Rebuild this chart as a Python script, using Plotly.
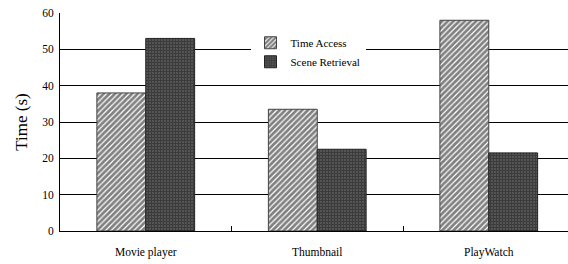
import plotly.graph_objects as go

categories = ["Movie player", "Thumbnail", "PlayWatch"]
time_access = [38, 33.5, 58]
scene_retrieval = [53, 22.5, 21.5]
y_ticks = [0, 10, 20, 30, 40, 50, 60]

FONT = "Liberation Serif, Times New Roman, serif"

fig = go.Figure()
fig.add_trace(go.Bar(
    name="Time Access", x=categories, y=time_access,
    marker=dict(color="white", line=dict(color="#444", width=1),
                pattern=dict(shape="/", fgcolor="black", bgcolor="white",
                             size=4, solidity=0.7)),
))
fig.add_trace(go.Bar(
    name="Scene Retrieval", x=categories, y=scene_retrieval,
    marker=dict(color="#333", line=dict(color="#222", width=1),
                pattern=dict(shape="+", fgcolor="#111", bgcolor="#666",
                             size=3, solidity=0.75)),
))

fig.update_layout(
    width=568, height=264,
    margin=dict(l=60, r=0, t=13, b=33, autoexpand=False),
    paper_bgcolor="white", plot_bgcolor="white",
    barmode="group", bargap=0.43, bargroupgap=0,
    font=dict(family=FONT, size=11, color="black"),
    showlegend=True,
    legend=dict(x=0.375, y=0.93, xanchor="left", yanchor="top",
                bgcolor="white", borderwidth=0,
                font=dict(family=FONT, size=11, color="black"),
                itemwidth=30, tracegroupgap=0),
    xaxis=dict(range=[-0.5, 2.462], showline=True, linecolor="black", linewidth=1,
               ticks="inside", tickson="boundaries", ticklen=5, tickcolor="black",
               showgrid=False, tickfont=dict(family=FONT, size=11.5), fixedrange=True,
               automargin=False, ticklabelstandoff=10),
    yaxis=dict(range=[0, 60], tickvals=y_ticks, showline=True, linecolor="black",
               linewidth=1, showgrid=True, gridcolor="black", gridwidth=1,
               ticks="", zeroline=False, automargin=False, fixedrange=True,
               tickfont=dict(family=FONT, size=11.5), ticklabelstandoff=3,
               title=dict(text="Time (s)", font=dict(family=FONT, size=17), standoff=10)),
)

fig.write_html("out.html", config={"displayModeBar": False},
               post_script="document.body.style.margin='0';document.body.style.overflow='hidden';")
